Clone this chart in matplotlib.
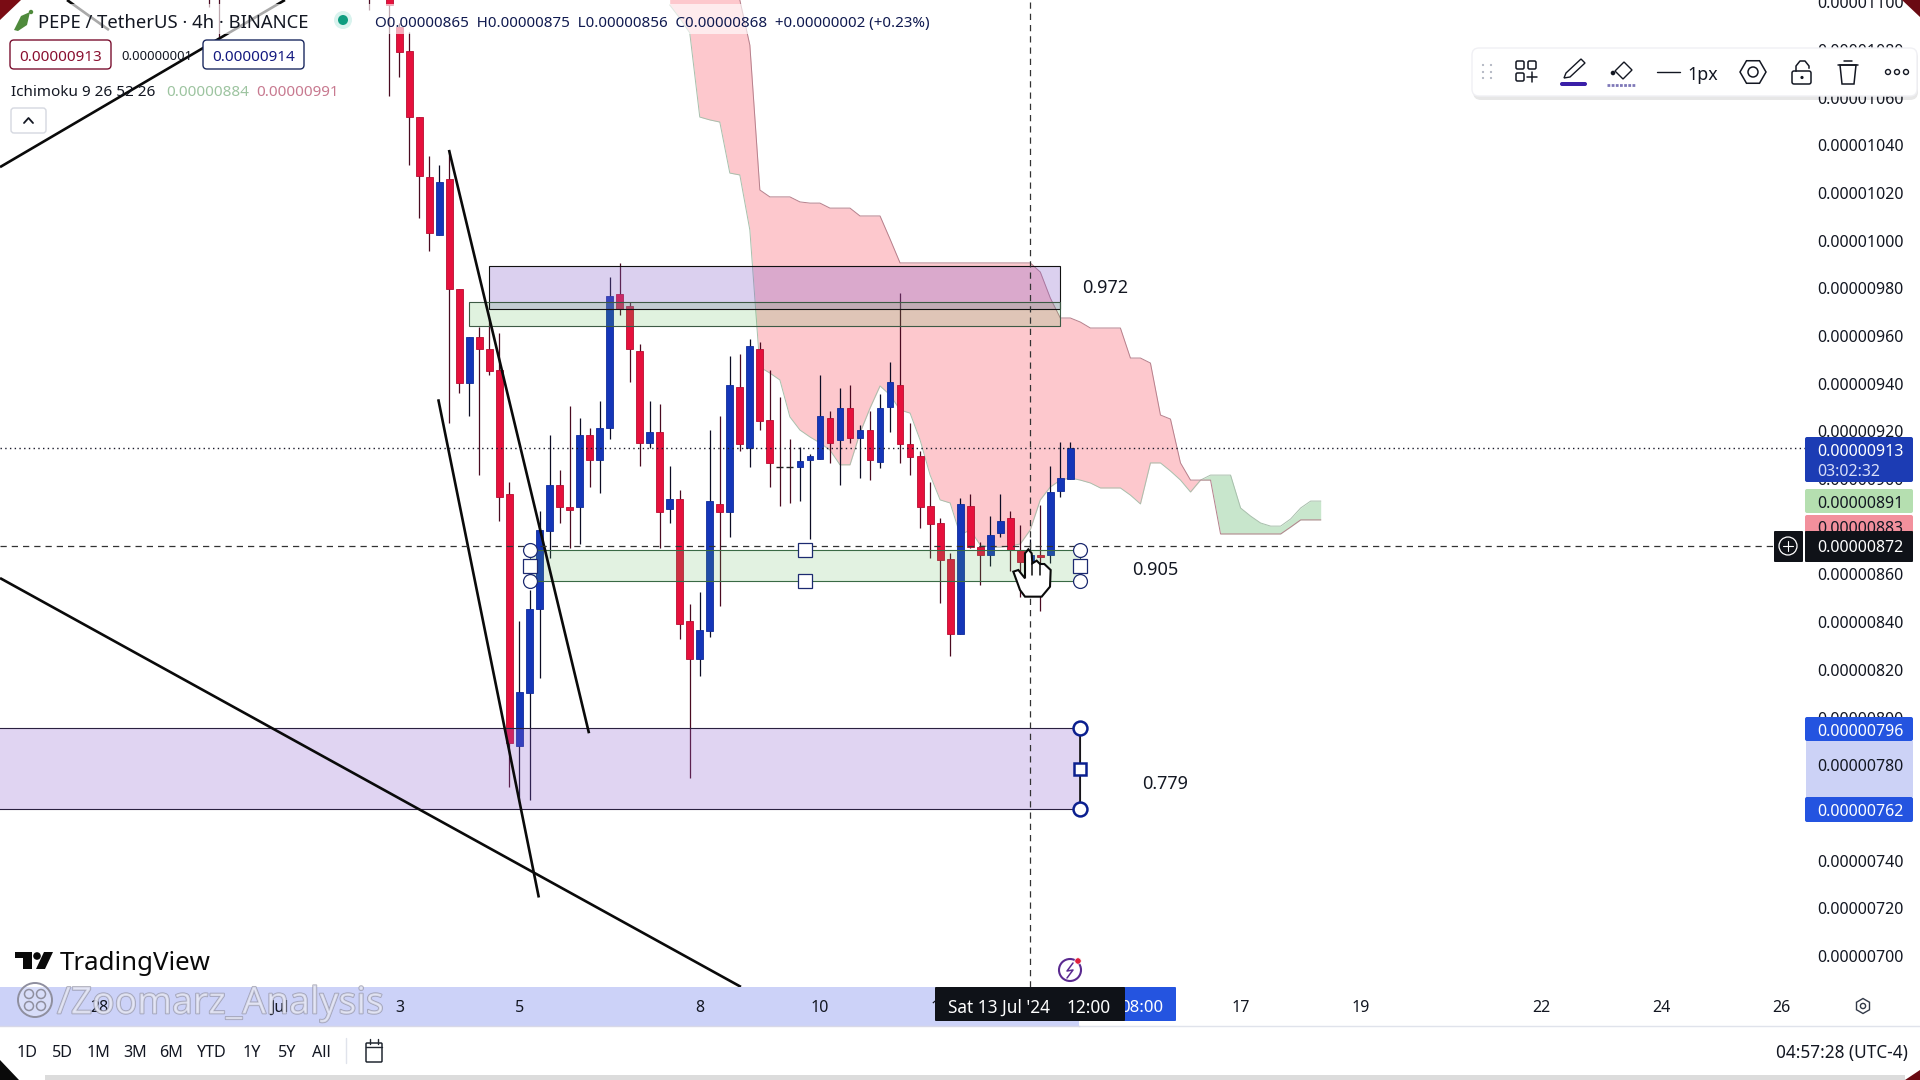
import matplotlib
matplotlib.use("Agg")
import matplotlib.pyplot as plt
import matplotlib.patheffects as pe
from matplotlib.patches import FancyBboxPatch, Rectangle, Circle, Polygon, RegularPolygon
import numpy as np

plt.rcParams['font.family'] = ['Noto Sans', 'DejaVu Sans']

# ---------- data (prices in units of 0.00000001, x in 4h bars) ----------
opens = [1113.6,1089.7,1079.6,1051.9,1026.7,1002.4,1025.9,979.8,940.3,959.6,954.6,945.8,893.8,788,810.3,845.5,878.2,897.5,888.3,888.3,
         918.5,908,921.5,977.7,972.6,953.8,915.2,919.8,887.5,891.7,840.5,824.5,836.3,889.6,886.2,938.7,913.1,954.6,924.8,905.1,
         905.1,905.1,908,908.4,925.6,916.4,929.8,917.3,920.6,907.2,930.3,939.5,914.7,909.7,888.7,881.6,866.5,835,888.7,871.5,
         868.2,877.4,883.7,870.3,865,868.2,868.2,895,900.1]
highs = [1118,1091.4,1087.6,1051.9,1035.6,1031.8,1038.1,979.8,959.6,963.8,966.8,961.3,898.8,840.5,853.5,886.6,918.5,903.8,930.7,925.6,
         921.5,932.8,984.8,990.7,974.3,956.7,932.8,931.5,905.5,895.4,847.6,852.7,920.6,926.5,951.7,952.5,958.8,957.5,945.8,934.5,
         916.8,913.5,910.5,943.7,928.6,938.2,939.5,922.7,928.6,935.7,949.1,978,923.5,911.8,898.8,883.7,869,892.1,893.8,873.6,
         884.5,893.8,886.6,880.8,875,889.2,905.5,915.6,915.6]
lows = [1060.7,1068.7,1031.8,1009.5,995.7,1002.4,923.6,936.1,926.5,901.7,943.7,882.4,770.9,765.4,765.4,816.6,866.9,881.6,871.1,872.8,
        896.7,894.2,916.8,968.9,940.8,905.5,913.1,871.1,881.6,832.9,774.6,817.4,833.8,846.8,875.7,911.8,905.1,920.6,896.7,888.7,
        890,890.8,874.9,908.4,906.8,897.5,915.2,900.5,899.6,904.7,919.8,906.8,901.7,879.5,866.9,848,825.8,835,871.1,855.6,
        863.6,875.7,861.5,850.6,856,844.7,864.8,892.5,900.1]
closes = [1098.9,1079.2,1051.9,1027.2,1003.3,1024.6,979.8,940.3,959.6,954.6,945.4,892.5,789.3,810.7,845.5,878.7,897.5,888.3,887.1,918.5,
          908,921.5,976.8,971.4,954.6,915.2,919.8,886.2,891.7,839.2,824.5,836.7,890.8,886.2,939.5,914.7,955.9,924.4,906.8,905.1,
          905.1,907.6,909.7,926.5,915.2,929.8,917.3,920.6,908,929.8,940.8,914.7,909.3,888.3,881.2,866,835,889.6,871.5,868.2,
          876.6,882.4,870.3,865.2,868,867.3,894.6,900.5,913]
early_bars = [-18, -17, -2]
early_high = [1130, 1130, 1130]
early_low = [1098, 1085.5, 1097]

cloud_start = 28
span_a = [1098.9,1093.4,1087.2,1051.9,1050.7,1049.8,1028.4,1027.6,1004.5,947,944.5,941.6,926.1,920.6,917.7,915.2,912.2,906,906,919.4,
          929.8,939.1,935.3,929,927.7,916.4,901.7,891.3,890,876.6,878.7,872.4,871.5,871.5,872,872.8,878.7,891.3,896.7,899.6,
          900.5,899.6,898.4,896.3,896.3,896.3,893.3,889.6,906.8,906.8,903.4,899.6,894.6,899.6,901.7,901.7,901.7,887.9,884.5,881.6,
          880.3,880.3,883.3,887.9,890.8,890.8]
span_b = [1126.2,1122,1117.8,1113.6,1111.5,1109.4,1107.3,1101,1082.1,1021.3,1018.4,1018.4,1018.4,1016.3,1015.8,1015.8,1013.7,1013.7,1013.7,1010.4,
          1010.4,1010.4,1000.7,990.7,990.7,990.7,990.7,990.7,990.7,990.7,990.7,990.7,990.7,990.7,990.7,990.7,990.7,986.9,976,967.6,
          967.6,965.9,963.4,963.4,963.4,963.4,950.8,950.8,948.7,926.9,925.2,906.8,899.6,899.6,899.6,877,877,877,877,877,
          877,877,879.9,882.9,882.9,882.9]

price_ticks = [700,720,740,760,780,800,820,840,860,880,900,920,940,960,980,1000,1020,1040,1060,1080,1100]
date_ticks = [-29,-11,1,13,31,43,55,85,97,115,127,139]
date_labels = ['28','Jul','3','5','8','10','12','17','19','22','24','26']

zones = [  # left bar, right bar, top price, bottom price
    (10, 67, 989.5, 971.2),
    (8, 67, 974.4, 964.4),
    (14, 69, 870.1, 857.1),
    (-40, 69, 795.5, 761.5),
]
zone_colors = ['#8a64cc', '#5fbb5a', '#5fbb5a', '#9060d0']
zone_edges = ['#111111', '#3d5a45', '#3a6a45', '#2a2040']
zone_alpha = [0.30, 0.19, 0.18, 0.27]
zone_labels = ['0.972', '0.905', '0.779']

trend_lines = [
    ((-38.87, 1030.9), (-10.42, 1101)),
    ((-32.18, 1101), (-27.99, 1088.4)),
    ((5.96, 1038.1), (19.94, 793.4)),
    ((4.89, 933.5), (14.93, 724.5)),
    ((-38.87, 858.5), (35.11, 687)),
]
last_price = 913
cross_price = 872
cross_bar = 64

range_labels = ['1D','5D','1M','3M','6M','YTD','1Y','5Y','All']

# ---------- figure / axes ----------
W, H = 1920, 1080
fig = plt.figure(figsize=(19.2, 10.8), dpi=100, facecolor='white')

bg = fig.add_axes([0, 0, 1, 1], zorder=0)
bg.set_xlim(0, W); bg.set_ylim(H, 0); bg.axis('off')
bg.add_patch(Rectangle((0, 987), 1079, 39, fc='#ccd2f8', ec='none'))
bg.add_patch(Rectangle((1806, 741), 107, 56, fc='#ccd2f6', ec='none'))
bg.plot([1079, 1920], [1026, 1026], color='#e0e3eb', lw=1)
bg.plot([0, 1079], [1026, 1026], color='#d8d8e8', lw=1)

ax = fig.add_axes([0, (H-987)/H, 1805/W, 987/H], zorder=1)
ax.patch.set_alpha(0)
BAR_PX = 10.015
ax.set_xlim(-389.3/BAR_PX, (1805-389.3)/BAR_PX)
ax.set_ylim(1101-0.4195*987, 1101)
for s in ax.spines.values():
    s.set_visible(False)

ax.yaxis.tick_right()
ax.set_yticks(price_ticks)
ax.set_yticklabels([f'{v*1e-8:.8f}' for v in price_ticks], fontsize=11.5, color='#131722', va='center_baseline')
ax.tick_params(axis='y', length=0, pad=8.6)
ax.set_xticks(date_ticks)
ax.set_xticklabels(date_labels, fontsize=11.5, color='#131722')
ax.tick_params(axis='x', length=0, pad=9)

# cloud
cx = np.arange(cloud_start, cloud_start + len(span_a))
a = np.array(span_a); b = np.array(span_b)
ax.fill_between(cx, a, b, where=b >= a, interpolate=True, color='#fdc8cd', lw=0, zorder=1)
ax.fill_between(cx, a, b, where=b <= a, interpolate=True, color='#c8e6cc', lw=0, zorder=1)
ax.plot(cx, a, color='#a8bfac', lw=0.7, zorder=1.2)
ax.plot(cx, b, color='#b5808c', lw=0.7, zorder=1.2)

# candles
idx = np.arange(len(opens))
O, Hi, Lo, C = map(np.array, (opens, highs, lows, closes))
up = C > O
down = C < O
flat = C == O
RED, BLUE = '#e6103c', '#1436b8'
ax.vlines(early_bars, early_low, early_high, color='#4a0a20', lw=0.9, zorder=2)
ax.vlines(idx[up], Lo[up], Hi[up], color='#0c0c24', lw=0.9, zorder=2)
ax.vlines(idx[~up], Lo[~up], Hi[~up], color='#4a0a20', lw=0.9, zorder=2)
ax.bar(idx[up], (C-O)[up], bottom=O[up], width=0.68, color=BLUE, edgecolor='#0e2a9a', lw=0.6, zorder=2.2)
ax.bar(idx[down], (C-O)[down], bottom=O[down], width=0.68, color=RED, edgecolor='#b80c30', lw=0.6, zorder=2.2)
ax.hlines(O[flat], idx[flat]-0.34, idx[flat]+0.34, color='#222222', lw=1, zorder=2.2)

# zones
for (l, r, t, bo), fc, ec, al in zip(zones, zone_colors, zone_edges, zone_alpha):
    ax.add_patch(Rectangle((l, bo), r-l, t-bo, fc=fc, alpha=al, ec='none', zorder=3))
    ax.add_patch(Rectangle((l, bo), r-l, t-bo, fc='none', ec=ec, lw=0.8, zorder=3.2))

# trend lines
for (p0, p1) in trend_lines:
    ax.plot([p0[0], p1[0]], [p0[1], p1[1]], color='#0a0a0a', lw=1.9, zorder=4, solid_capstyle='butt')

# crosshair / last price
ax.axhline(last_price, color='#1a1a2a', lw=1.0, ls=(0, (1, 2.4)), zorder=5)
ax.plot([ax.get_xlim()[0], (1780-389.3)/BAR_PX], [cross_price, cross_price], color='#333333', lw=0.9, ls=(0, (5, 4)), zorder=5)
ax.axvline(cross_bar - 0.05, color='#333333', lw=0.9, ls=(0, (5, 4)), zorder=5)

# zone labels and handles
lab_x = [71.5, 76.5, 77.5]
lab_y = [980.2, 862, 772.2]
for s, lx, ly in zip(zone_labels, lab_x, lab_y):
    ax.text(lx, ly, s, fontsize=13, color='#131722', ha='center', va='center', zorder=6)

m = dict(ls='none', zorder=6, clip_on=False)
ax.plot([14, 14, 69, 69], [870.1, 857.1, 870.1, 857.1], marker='o', ms=10, mfc='white', mec='#1c2a70', mew=0.9, **m)
ax.plot([14, 69], [863.6, 863.6], marker='s', ms=10, mfc='white', mec='#1c2a70', mew=0.9, **m)
ax.plot([41.5, 41.5], [870.1, 857.1], marker='s', ms=10, mfc='white', mec='#1c2a70', mew=0.9, **m)
ax.plot([69, 69], [795.5, 761.5], color='#111111', lw=1.2, zorder=5.8)
ax.plot([69, 69], [795.5, 761.5], marker='o', ms=10, mfc='white', mec='#0b1f8f', mew=1.8, **m)
ax.plot([69], [778.5], marker='s', ms=9, mfc='white', mec='#0b1f8f', mew=1.8, **m)

# ---------- screen furniture, in pixel coordinates ----------
ov = fig.add_axes([0, 0, 1, 1], zorder=10)
ov.set_xlim(0, W); ov.set_ylim(H, 0); ov.axis('off'); ov.patch.set_alpha(0)

def box(x0, y0, x1, y1, fc='white', ec='none', lw=1, r=2, z=2, alpha=None):
    ov.add_patch(FancyBboxPatch((x0, y0), x1-x0, y1-y0, boxstyle=f'round,pad=0,rounding_size={r}',
                                fc=fc, ec=ec, lw=lw, zorder=z, alpha=alpha))
def tx(x, y, s, size=11, color='#131722', ha='left', va='center_baseline', z=3, **k):
    return ov.text(x, y, s, fontsize=size, color=color, ha=ha, va=va, zorder=z, **k)
def line(xs, ys, color='#131722', lw=1, z=3, **k):
    ov.plot(xs, ys, color=color, lw=lw, zorder=z, solid_capstyle='round', **k)

# corners
ov.add_patch(Polygon([(0,0),(21,0),(0,20)], fc='#7a0c14', ec='none', zorder=9))
ov.add_patch(Polygon([(1902,0),(1920,0),(1920,17)], fc='#6a0a12', ec='none', zorder=9))
ov.add_patch(Polygon([(0,1060),(0,1080),(19,1080)], fc='#0a0a0a', ec='none', zorder=9))
ov.add_patch(Polygon([(1905,1080),(1920,1080),(1920,1070)], fc='#6a0a12', ec='none', zorder=9))
ov.add_patch(Rectangle((45, 1075), 1860, 5, fc='#dcdcdc', ec='none', zorder=1))

# legend band and header
ov.add_patch(Rectangle((0, 4), 945, 30, fc='white', alpha=0.65, ec='none', zorder=1))
ov.add_patch(Polygon([(14,30),(21,16),(30,12),(27,25),(18,31)], fc='#4f8a3c', ec='none', zorder=3))
ov.add_patch(Circle((31, 12), 2.2, fc='#4f8a3c', ec='none', zorder=3))
tx(38.5, 21, 'PEPE / TetherUS · 4h · BINANCE', size=13.3)
ov.add_patch(Circle((343, 20), 9, fc='#d9f3ee', ec='none', zorder=2))
ov.add_patch(Circle((343, 20), 5, fc='#0f9d80', ec='none', zorder=3))
tx(375, 21, 'O0.00000865  H0.00000875  L0.00000856  C0.00000868  +0.00000002 (+0.23%)', size=10.9, color='#101a50')

box(10, 40, 111, 69, fc='white', ec='#7a1030', r=4)
tx(60.5, 55.5, '0.00000913', size=11, color='#8a1030', ha='center')
tx(157, 55, '0.00000001', size=9.4, ha='center')
box(203, 40, 304, 69, fc='white', ec='#1c2a60', r=4)
tx(253.5, 55.5, '0.00000914', size=11, color='#141a80', ha='center')
tx(11, 91, 'Ichimoku 9 26 52 26', size=11)
tx(166, 91, '0.00000884', size=11, color='#9dc4a0')
tx(256, 91, '0.00000991', size=11, color='#c87a90')
box(11, 108, 46, 133, fc='white', ec='#d5d8e0', r=3)
line([24, 28.5, 33], [123, 118, 123], lw=1.3)

# price tags
box(1805, 437, 1913, 482, fc='#1c3cb4', r=2)
tx(1817, 450, '0.00000913', size=11.5, color='white', fontweight='semibold')
tx(1817, 470, '03:02:32', size=11.5, color='#d8def8', fontweight='medium')
box(1805, 489, 1913, 513, fc='#b5dfb0', r=2)
tx(1817, 502, '0.00000891', size=11.5)
box(1805, 515, 1913, 533, fc='#f2909c', r=2, z=2)
tx(1817, 527, '0.00000883', size=11.5, z=2.5)
box(1805, 531, 1913, 562, fc='#0f1218', r=1, z=3)
tx(1817, 546.5, '0.00000872', size=11.5, color='white', z=4, fontweight='semibold')
box(1774, 531, 1803, 562, fc='#0f1218', r=1, z=3)
ov.add_patch(Circle((1788, 546), 9, fc='none', ec='white', lw=0.9, zorder=4))
line([1783, 1793], [546, 546], color='white', lw=0.8, z=4)
line([1788, 1788], [541, 551], color='white', lw=0.8, z=4)
box(1805, 717, 1913, 741, fc='#2454e0', r=2)
tx(1817, 729.5, '0.00000796', size=11.5, color='white', fontweight='semibold')
box(1805, 797, 1913, 822, fc='#2454e0', r=2)
tx(1817, 810, '0.00000762', size=11.5, color='white', fontweight='semibold')

# time tags
box(1100, 987, 1176, 1021, fc='#2454e0', r=1, z=2)
tx(1142, 1006, '08:00', size=12, color='white', ha='center', z=2.5, fontweight='medium')
box(935, 987, 1125, 1021, fc='#0f1218', r=1, z=3)
tx(948, 1006, "Sat 13 Jul '24", size=12.4, color='white', z=4, fontweight='medium')
tx(1089, 1006, '12:00', size=12.4, color='white', ha='center', z=4, fontweight='medium')

# logo and watermark
ov.add_patch(Polygon([(15,952),(32,952),(32,969),(23,969),(23,958),(15,958)], fc='#0a0a0a', ec='none', zorder=3))
ov.add_patch(Circle((37, 956), 3.8, fc='#0a0a0a', ec='none', zorder=3))
ov.add_patch(Polygon([(44,952),(53,952),(45,969),(36,969)], fc='#0a0a0a', ec='none', zorder=3))
tx(60, 961, 'TradingView', size=18.6, color='#0a0a0a', fontweight='bold')
ov.add_patch(Circle((35, 1000), 17, fc='#ffffff40', ec='#8f8f9f', lw=1.4, zorder=5))
for dx, dy in [(-6,-6),(6,-6),(-6,6),(6,6)]:
    ov.add_patch(Circle((35+dx, 1000+dy), 4.5, fc='none', ec='#8f8f9f', lw=1.1, zorder=5))
w = tx(57, 1000, '/Zoomarz_Analysis', size=26.8, color='#e6e8f6', z=5, alpha=0.7)
w.set_path_effects([pe.withStroke(linewidth=1.2, foreground='#8f8f9f')])

# lightning icon
ov.add_patch(Circle((1070, 970), 11, fc='white', ec='#5a2a90', lw=1.5, zorder=3))
line([1073, 1067, 1073, 1067], [963, 971, 970, 978], color='#5a2a90', lw=1.1)
ov.add_patch(Circle((1078, 961), 3.2, fc='#e0203c', ec='white', lw=0.5, zorder=4))

# settings icon
ov.add_patch(RegularPolygon((1863, 1006), 6, radius=7.5, fc='none', ec='#333a48', lw=1, zorder=3))
ov.add_patch(Circle((1863, 1006), 2.6, fc='none', ec='#333a48', lw=1, zorder=3))

# bottom toolbar
range_x = [27, 62.5, 98, 135, 171, 212, 252, 287, 321]
for s, x in zip(range_labels, range_x):
    tx(x, 1051, s, size=11.6, ha='center')
line([346, 346], [1038, 1063], color='#e0e3eb', lw=1)
box(366, 1043, 382, 1062, fc='none', ec='#222831', r=1, lw=1.1)
line([366, 382], [1047, 1047], color='#222831', lw=1.0)
line([370, 370], [1039, 1044], color='#222831', lw=1.0)
line([378, 378], [1039, 1044], color='#222831', lw=1.0)
tx(1908, 1051, '04:57:28 (UTC-4)', size=12.4, ha='right')

# drawing toolbar
box(1473, 50, 1918, 100, fc='#00000018', r=8, z=1.5)
box(1472, 48, 1917, 96, fc='white', ec='#f0f0f4', r=7, z=2)
for dx in (1483, 1491):
    for dy in (65, 72, 78):
        ov.add_patch(Circle((dx, dy), 1.1, fc='#b0b4c0', ec='none', zorder=3))
for (x, y) in [(1520,65),(1532,65),(1520,77)]:
    box(x-4, y-4, x+4, y+4, fc='none', ec='#131722', r=1.5, lw=1.1, z=3)
line([1527, 1537], [77, 77], lw=1.1)
line([1532, 1532], [72, 82], lw=1.1)
ov.add_patch(Polygon([(1566,73),(1581,59),(1585,63),(1570,77),(1564,78)], fc='white', ec='#131722', lw=1.0, zorder=3))
box(1560, 82, 1587, 86, fc='#3a1fa8', r=2, z=3)
ov.add_patch(Polygon([(1615,71),(1624,62),(1632,70),(1623,79)], fc='white', ec='#131722', lw=1.0, zorder=3))
ov.add_patch(Circle((1613, 73), 2.3, fc='#131722', ec='none', zorder=3))
line([1607, 1635], [84.5, 84.5], color='#7e78b8', lw=2.0, ls=(0, (1, 0.5)))
line([1657, 1680], [72, 72], lw=1.0)
tx(1703, 72.5, '1px', size=12.8, ha='center')
ov.add_patch(RegularPolygon((1753, 72), 6, radius=13, orientation=np.pi/6, fc='none', ec='#131722', lw=1.1, zorder=3))
ov.add_patch(Circle((1753, 72), 5, fc='none', ec='#131722', lw=1.1, zorder=3))
box(1792, 71, 1811, 84, fc='white', ec='#131722', r=2, lw=1.1, z=3)
ov.add_patch(Circle((1802, 77.5), 1.6, fc='#131722', ec='none', zorder=4))
ov.plot([1796, 1796, 1800, 1805, 1809, 1809], [71, 66, 61, 61, 66, 68], color='#131722', lw=1.1, zorder=3)
ov.add_patch(Polygon([(1840,65),(1856,65),(1854,84),(1842,84)], fc='white', ec='#131722', lw=1.1, zorder=3))
line([1838, 1858], [65, 65], lw=1.1)
line([1844, 1852], [61, 61], lw=1.1)
for x in (1888, 1897, 1906):
    ov.add_patch(Circle((x, 72), 2.5, fc='none', ec='#131722', lw=1, zorder=3))

# hand cursor
hx = [40,55,75,75,85,95,97,110,120,133,152,150,125,75,60]
hy = [95,90,115,40,28,40,70,62,72,72,90,140,170,170,150]
ov.add_patch(Polygon([(1000+a_/3, 540+b_/3) for a_, b_ in zip(hx, hy)], fc='white', ec='#0a0a0a', lw=1.5, zorder=6))
for zx in (97, 120):
    line([1000+zx/3, 1000+zx/3], [540+70/3, 540+105/3], color='#0a0a0a', lw=1.1, z=7)

fig.savefig('out.png', dpi=100)
